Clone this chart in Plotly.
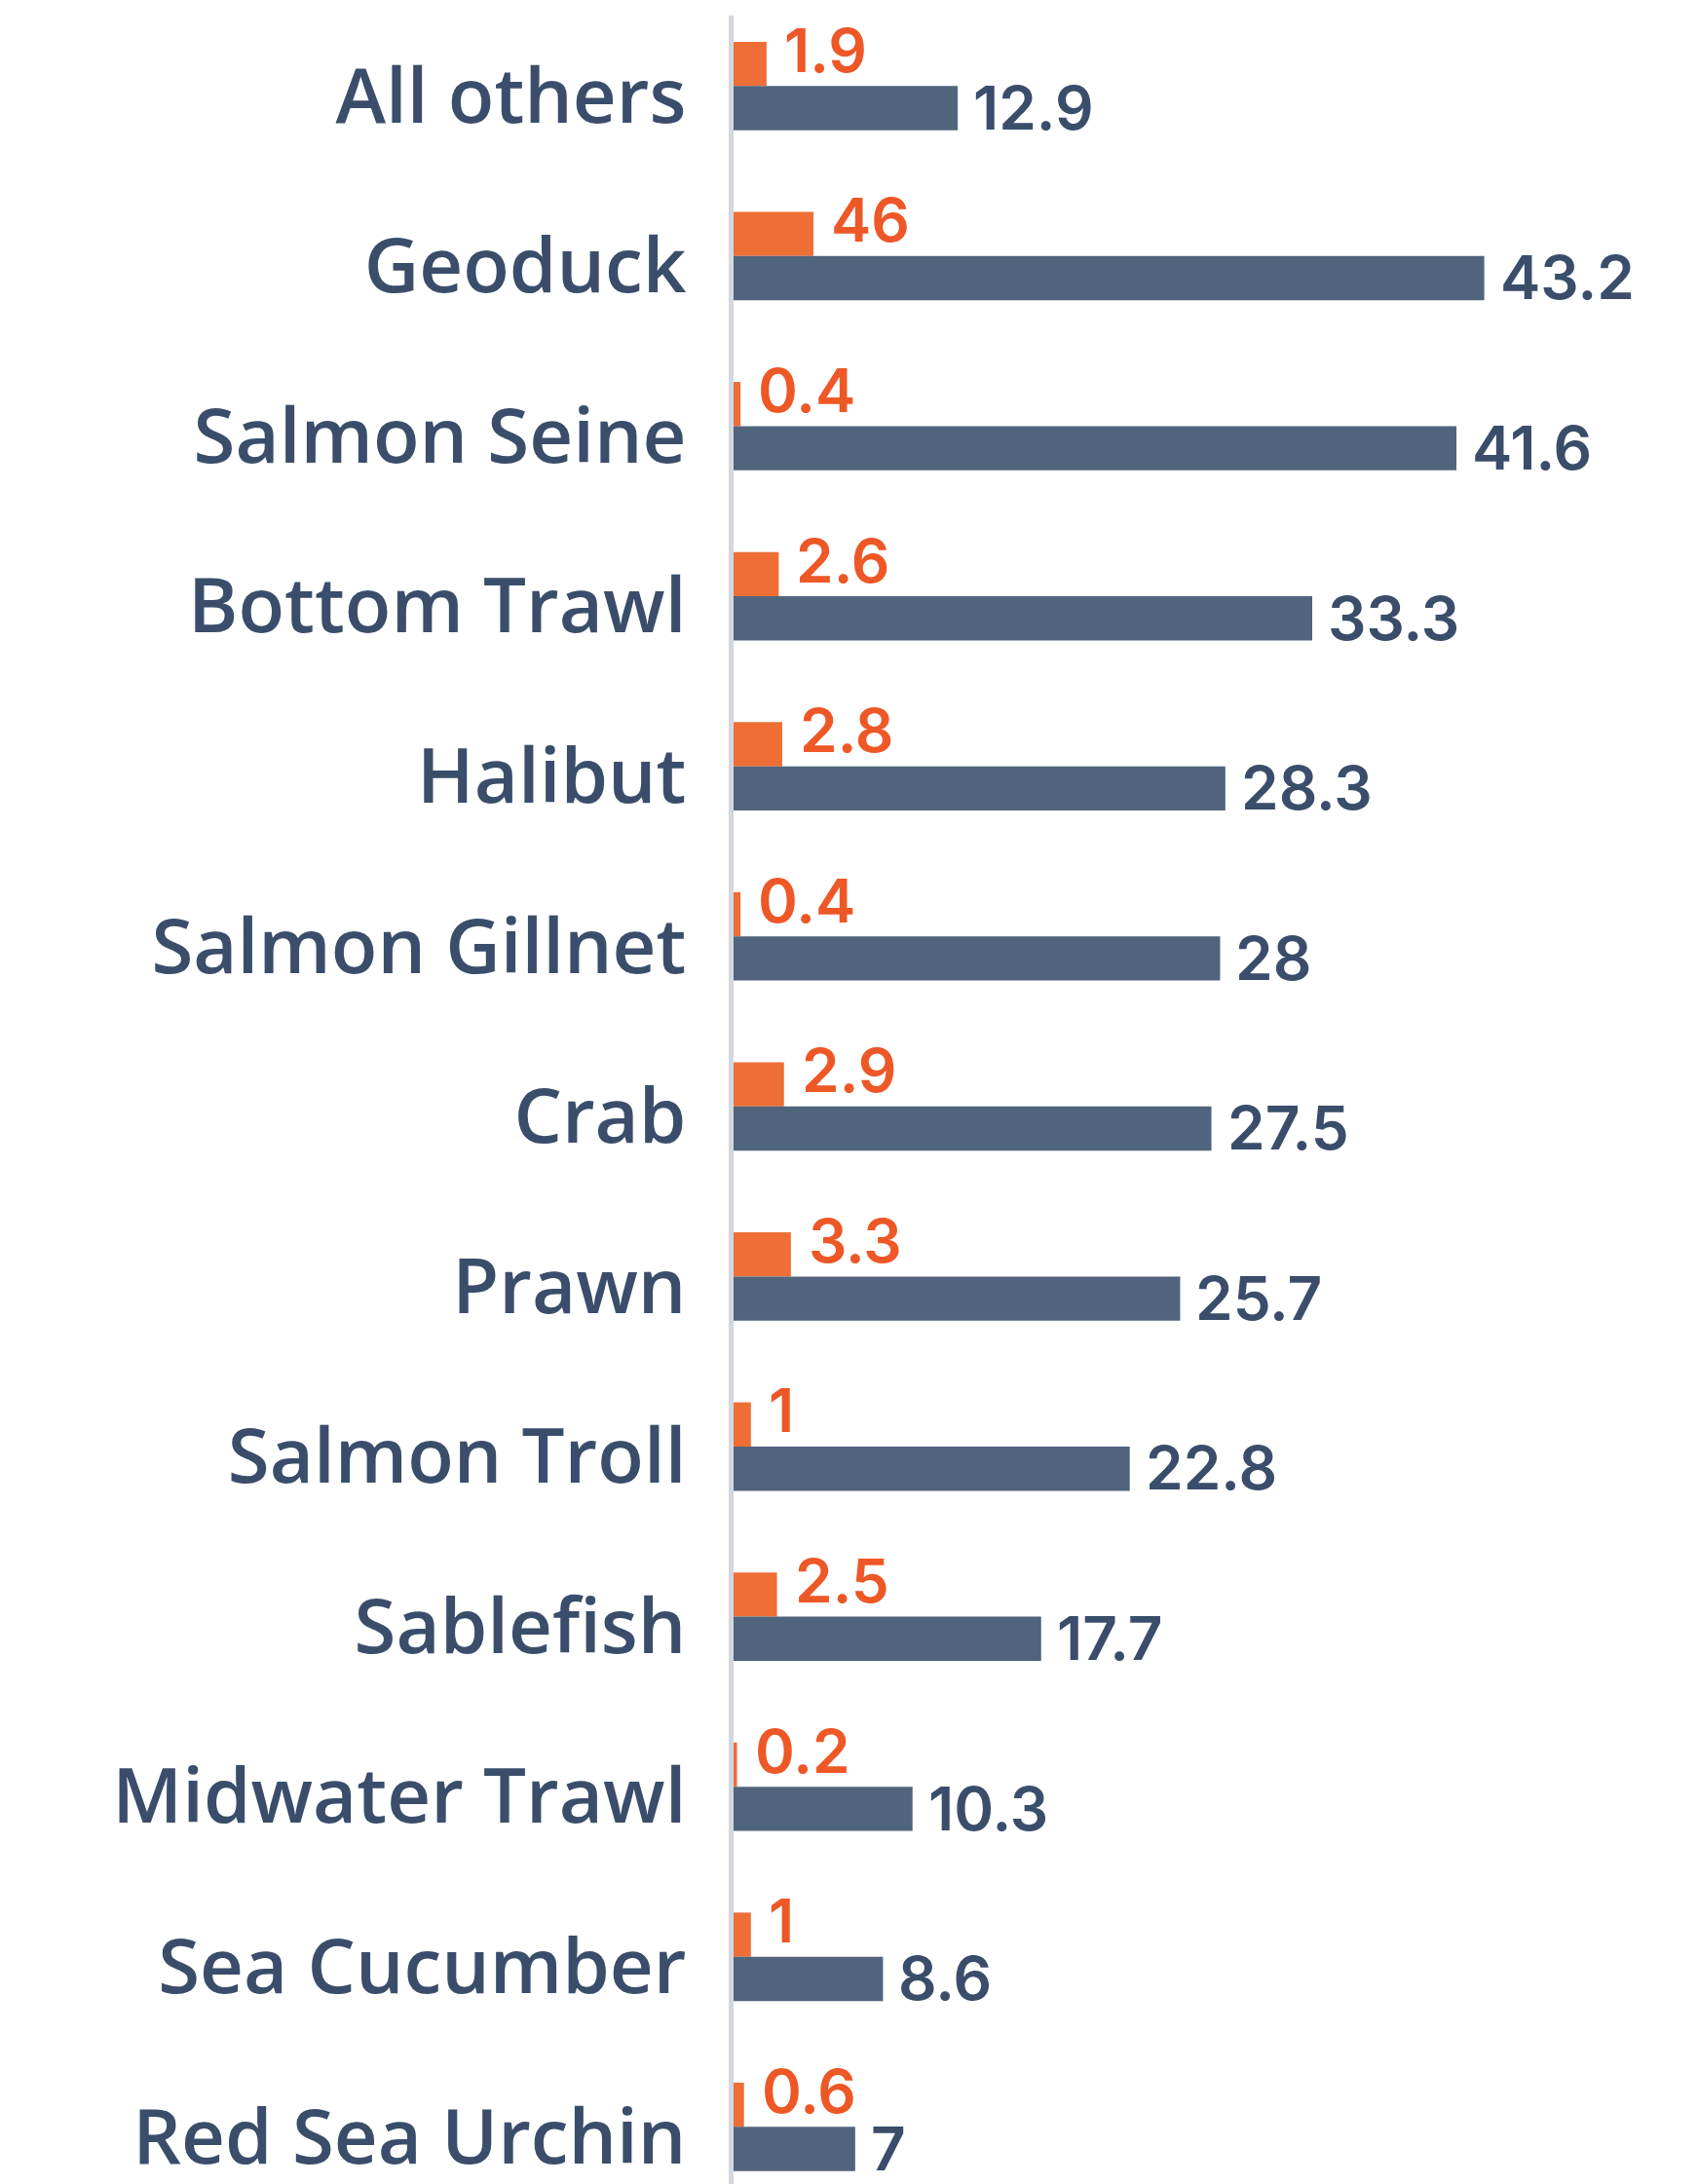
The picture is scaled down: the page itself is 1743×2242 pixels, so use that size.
import plotly.graph_objects as go

categories = ["All others", "Geoduck", "Salmon Seine", "Bottom Trawl", "Halibut",
              "Salmon Gillnet", "Crab", "Prawn", "Salmon Troll", "Sablefish",
              "Midwater Trawl", "Sea Cucumber", "Red Sea Urchin"]
orange_values = [1.9, 4.6, 0.4, 2.6, 2.8, 0.4, 2.9, 3.3, 1.0, 2.5, 0.2, 1.0, 0.6]
orange_labels = ["1.9", "46", "0.4", "2.6", "2.8", "0.4", "2.9", "3.3", "1", "2.5", "0.2", "1", "0.6"]
blue_values = [12.9, 43.2, 41.6, 33.3, 28.3, 28.0, 27.5, 25.7, 22.8, 17.7, 10.3, 8.6, 7.0]
blue_labels = ["12.9", "43.2", "41.6", "33.3", "28.3", "28", "27.5", "25.7", "22.8", "17.7", "10.3", "8.6", "7"]

ORANGE_BAR = "#EE6E36"
ORANGE_TXT = "#EE5726"
BLUE_BAR = "#51647D"
NAVY_TXT = "#3A4E6B"
NUM_FONT = "Inter"
CAT_FONT = "Open Sans"

fig = go.Figure()
fig.add_trace(go.Bar(y=categories, x=orange_values, orientation="h",
                     marker=dict(color=ORANGE_BAR, line=dict(width=0)), hoverinfo="skip"))
fig.add_trace(go.Bar(y=categories, x=blue_values, orientation="h",
                     marker=dict(color=BLUE_BAR, line=dict(width=0)), hoverinfo="skip"))

annotations = []
for cat, v, lab in zip(categories, orange_values, orange_labels):
    annotations.append(dict(x=v, y=cat, text=lab, xanchor="left", yanchor="middle",
                            xshift=16, yshift=37, showarrow=False,
                            font=dict(family=NUM_FONT, size=62, color=ORANGE_TXT, weight=600)))
for cat, v, lab in zip(categories, blue_values, blue_labels):
    annotations.append(dict(x=v, y=cat, text=lab, xanchor="left", yanchor="middle",
                            xshift=14, yshift=-22, showarrow=False,
                            font=dict(family=NUM_FONT, size=62, color=NAVY_TXT, weight=600)))

fig.update_layout(
    template="none",
    width=1743, height=2242,
    margin=dict(l=753, r=0, t=16, b=0, pad=0, autoexpand=False),
    paper_bgcolor="white", plot_bgcolor="white",
    barmode="group", bargap=0.48, bargroupgap=0,
    showlegend=False,
    annotations=annotations,
    xaxis=dict(range=[0, 55.5], showgrid=False, zeroline=False, showticklabels=False,
               showline=False, ticks="", automargin=False),
    yaxis=dict(type="category", range=[12.336, -0.414], showgrid=False, zeroline=False,
               showline=True, linecolor="#D3D7DF", linewidth=5, ticks="",
               automargin=False, ticklabelstandoff=28, ticklabelshift=-10,
               tickfont=dict(family=CAT_FONT, size=78, color=NAVY_TXT, weight=600)),
)

fig.write_html("out.html", config={"displayModeBar": False},
               post_script="document.body.style.margin='0';")
